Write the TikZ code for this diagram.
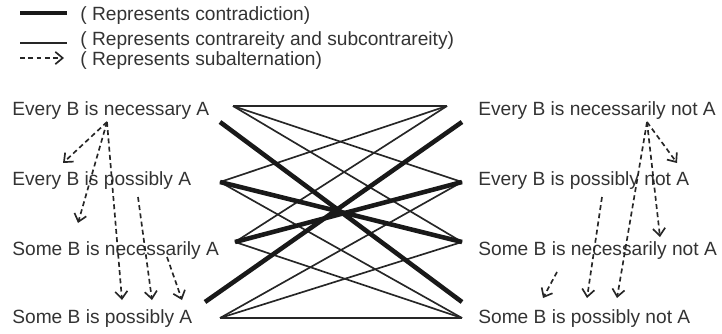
\documentclass[tikz,border=0pt]{standalone}
\usepackage{fontspec}
\setmainfont{Liberation Sans}
\usepackage{tikz}
\usetikzlibrary{arrows.meta}
\tikzset{>={Straight Barb[length=4.2pt,width=7pt]}}
\usepackage{xcolor}

\begin{document}
\begin{tikzpicture}[
    lbl/.style={anchor=base west, inner sep=0pt, text=black!80,
                font=\fontsize{10.9}{13}\selectfont},
    contra/.style={line width=2.6pt, black!90},
    contrary/.style={line width=0.95pt, black!85},
    subalt/.style={->, line width=0.95pt, black!85, dash pattern=on 2.8pt off 1.9pt}]
                \useasboundingbox (0,0) rectangle (14.44,6.66);
                % Legend
                \coordinate (k1a) at (0.40,6.40); \coordinate (k1b) at (1.34,6.40);
                \coordinate (k2a) at (0.40,5.80); \coordinate (k2b) at (1.34,5.80);
                \coordinate (k3a) at (0.40,5.50); \coordinate (k3b) at (1.28,5.50);
                \draw[contra] (k1a) -- (k1b);
                \draw[contrary] (k2a) -- (k2b);
                \draw[subalt] (k3a) -- (k3b);
                \node[lbl] (key1) at (1.60,6.26) {( Represents contradiction)};
                \node[lbl] (key2) at (1.60,5.76) {( Represents contrareity and subcontrareity)};
                \node[lbl] (key3) at (1.60,5.36) {( Represents subalternation)};
                % Propositions
                \node[lbl] (pl1) at (0.24,4.36) {Every B is necessary A};
                \node[lbl] (pl2) at (0.24,2.96) {Every B is possibly A};
                \node[lbl] (pl3) at (0.24,1.56) {Some B is necessarily A};
                \node[lbl] (pl4) at (0.24,0.20) {Some B is possibly A};
                \node[lbl] (pr1) at (9.56,4.36) {Every B is necessarily not A};
                \node[lbl] (pr2) at (9.56,2.96) {Every B is possibly not A};
                \node[lbl] (pr3) at (9.56,1.56) {Some B is necessarily not A};
                \node[lbl] (pr4) at (9.56,0.20) {Some B is possibly not A};
                % Ends of the connectors
                \coordinate (l1) at (4.66,4.54); \coordinate (r1) at (8.94,4.54);
                \coordinate (l2) at (4.40,3.02); \coordinate (r2) at (9.24,3.02);
                \coordinate (l3) at (4.70,1.82); \coordinate (r3) at (9.24,1.82);
                \coordinate (l4) at (4.40,0.30); \coordinate (r4) at (9.24,0.30);
                \coordinate (l1t) at (4.40,4.22); \coordinate (r1t) at (9.24,4.22);
                \coordinate (l4t) at (4.10,0.62); \coordinate (r4t) at (9.24,0.62);
                % Contrareity and subcontrareity
                \draw[contrary] (l1) -- (r1);
                \draw[contrary] (l4) -- (r4);
                \draw[contrary] (l1) -- (r2);
                \draw[contrary] (l1) -- (r3);
                \draw[contrary] (l4) -- (r2);
                \draw[contrary] (l4) -- (r3);
                \draw[contrary] (r1) -- (l2);
                \draw[contrary] (r1) -- (l3);
                \draw[contrary] (r4) -- (l2);
                \draw[contrary] (r4) -- (l3);
                % Contradiction
                \draw[contra] (l1t) -- (r4t);
                \draw[contra] (r1t) -- (l4t);
                \draw[contra] (l2) -- (r3);
                \draw[contra] (l3) -- (r2);
                % Subalternation, left
                \coordinate (sl) at (2.14,4.22);
                \coordinate (al2) at (1.26,3.40);
                \coordinate (al3) at (1.56,2.20);
                \coordinate (al4) at (2.44,0.66);
                \coordinate (bl2) at (2.76,2.72); \coordinate (bl4) at (3.04,0.66);
                \coordinate (cl3) at (3.34,1.52); \coordinate (cl4) at (3.64,0.66);
                \draw[subalt] (sl) -- (al2);
                \draw[subalt] (sl) -- (al3);
                \draw[subalt] (sl) -- (al4);
                \draw[subalt] (bl2) -- (bl4);
                \draw[subalt] (cl3) -- (cl4);
                % Subalternation, right
                \coordinate (sr) at (12.94,4.22);
                \coordinate (ar2) at (13.54,3.40);
                \coordinate (ar3) at (13.20,1.92);
                \coordinate (ar4) at (12.34,0.70);
                \coordinate (br2) at (12.04,2.72); \coordinate (br4) at (11.74,0.70);
                \coordinate (cr3) at (11.14,1.22); \coordinate (cr4) at (10.86,0.70);
                \draw[subalt] (sr) -- (ar2);
                \draw[subalt] (sr) -- (ar3);
                \draw[subalt] (sr) -- (ar4);
                \draw[subalt] (br2) -- (br4);
                \draw[subalt] (cr3) -- (cr4);
            \end{tikzpicture}
\end{document}
